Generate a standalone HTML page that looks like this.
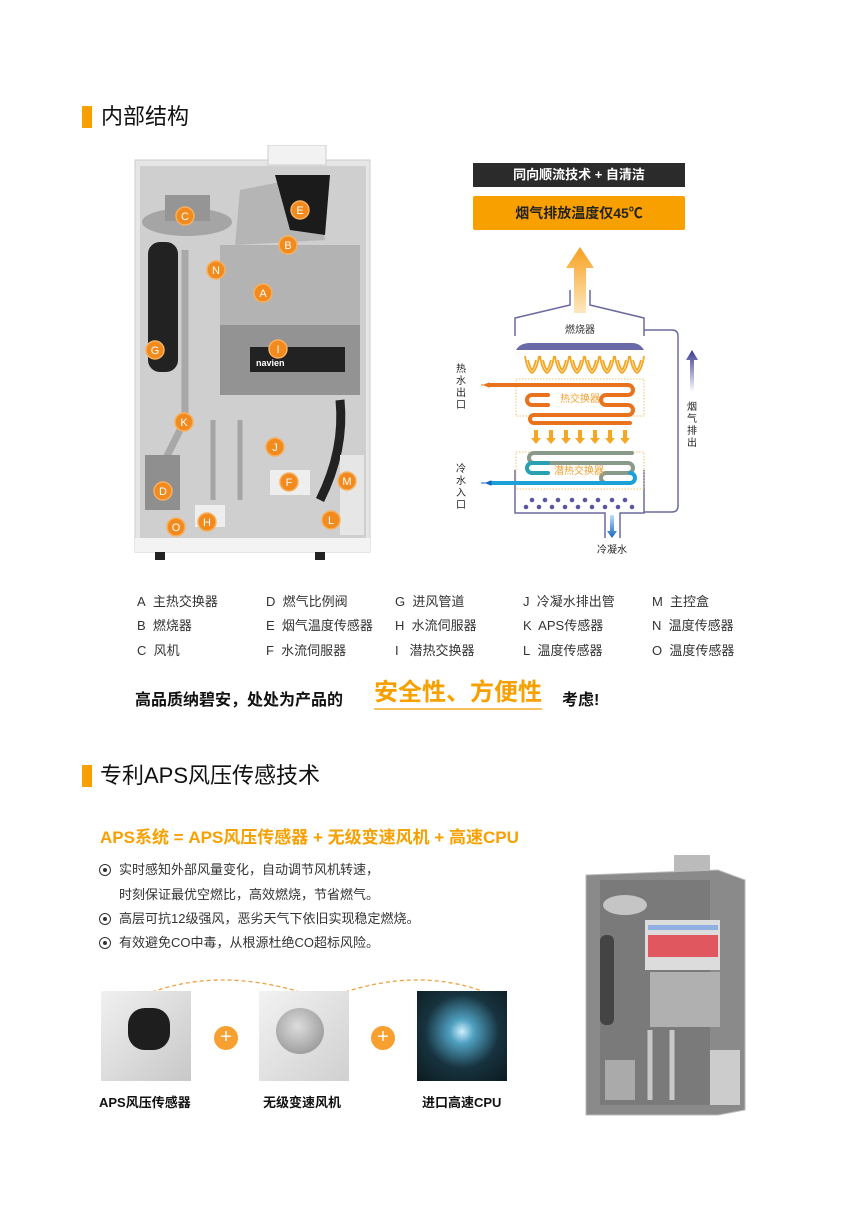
<!DOCTYPE html>
<html><head><meta charset="utf-8"><style>
*{margin:0;padding:0;box-sizing:border-box}
body{width:850px;height:1209px;background:#fff;position:relative;overflow:hidden;font-family:"Liberation Sans","Noto Sans CJK SC",sans-serif;color:#222}
.a{position:absolute;white-space:nowrap}
.bar{position:absolute;width:10px;height:22px;background:#f7a000}
.h{font-size:22px;line-height:24px;color:#111}
.lg{font-size:13px;line-height:16px;color:#333}
.bl{font-size:13px;line-height:16px;color:#333}
.dot{position:absolute;width:12px;height:12px;border:1.5px solid #333;border-radius:50%}
.dot:after{content:"";position:absolute;left:2.5px;top:2.5px;width:4px;height:4px;border-radius:50%;background:#333}
.cap{font-size:13px;font-weight:bold;color:#111}
.plus{position:absolute;width:24px;height:24px;border-radius:50%;background:#f7a030;color:#fff;font-size:20px;line-height:23px;text-align:center}
</style></head><body>

<div class="bar" style="left:82px;top:106px"></div>
<div class="a h" style="left:101px;top:105px">内部结构</div>

<!-- left photo -->
<svg class="a" style="left:130px;top:145px" width="250" height="420" viewBox="130 145 250 420">
<rect x="135" y="160" width="235" height="392" fill="#e6e6e6" stroke="#ccc"/>
<rect x="140" y="166" width="226" height="378" fill="#cfcfcf"/>
<rect x="268" y="145" width="58" height="20" fill="#f2f2f2" stroke="#ccc"/>
<ellipse cx="187" cy="222" rx="45" ry="14" fill="#a5a5a5"/>
<rect x="165" y="195" width="45" height="26" fill="#959595"/>
<rect x="148" y="242" width="30" height="130" rx="12" fill="#222"/>
<path d="M240 190 L315 175 L325 240 L235 245Z" fill="#b5b5b5"/>
<path d="M275 175 L330 175 L325 235 L290 230Z" fill="#1b1b1b"/>
<rect x="220" y="245" width="140" height="80" fill="#b3b3b3"/>
<rect x="220" y="325" width="140" height="70" fill="#939393"/>
<rect x="250" y="347" width="95" height="25" fill="#222"/>
<text x="256" y="366" font-size="9" font-weight="bold" fill="#fff" font-family="Liberation Sans">navien</text>
<path d="M185 250 L185 420 L160 470" stroke="#a8a8a8" stroke-width="7" fill="none"/>
<path d="M213 420 L213 500 M240 420 L240 500" stroke="#a5a5a5" stroke-width="5" fill="none"/>
<path d="M340 400 Q345 450 320 500" stroke="#222" stroke-width="9" fill="none"/>
<rect x="145" y="455" width="35" height="55" fill="#8f8f8f"/>
<rect x="270" y="470" width="40" height="25" fill="#eee"/>
<rect x="195" y="505" width="30" height="22" fill="#eee"/>
<rect x="340" y="455" width="24" height="80" fill="#e6e6e6"/>
<rect x="135" y="538" width="235" height="14" fill="#f3f3f3"/>
<rect x="155" y="552" width="10" height="8" fill="#222"/><rect x="315" y="552" width="10" height="8" fill="#222"/>
<g fill="#f28a1e" stroke="#f7b060" stroke-width="1.5">
<circle cx="185" cy="216" r="9"/><circle cx="300" cy="210" r="9"/><circle cx="288" cy="245" r="9"/><circle cx="216" cy="270" r="9"/><circle cx="263" cy="293" r="9"/><circle cx="278" cy="349" r="9"/><circle cx="155" cy="350" r="9"/><circle cx="184" cy="422" r="9"/><circle cx="275" cy="447" r="9"/><circle cx="289" cy="482" r="9"/><circle cx="347" cy="481" r="9"/><circle cx="163" cy="491" r="9"/><circle cx="176" cy="527" r="9"/><circle cx="207" cy="522" r="9"/><circle cx="331" cy="520" r="9"/>
</g>
<g fill="#fff" font-size="11" font-family="Liberation Sans" text-anchor="middle">
<text x="185" y="220">C</text><text x="300" y="214">E</text><text x="288" y="249">B</text><text x="216" y="274">N</text><text x="263" y="297">A</text><text x="278" y="353">I</text><text x="155" y="354">G</text><text x="184" y="426">K</text><text x="275" y="451">J</text><text x="289" y="486">F</text><text x="347" y="485">M</text><text x="163" y="495">D</text><text x="176" y="531">O</text><text x="207" y="526">H</text><text x="331" y="524">L</text>
</g>
</svg>

<!-- right diagram -->
<div class="a" style="left:473px;top:163px;width:212px;height:24px;background:#2b2b2b;color:#fff;font-size:13px;font-weight:bold;text-align:center;line-height:24px">同向顺流技术 + 自清洁</div>
<div class="a" style="left:473px;top:196px;width:212px;height:34px;background:#f7a000;color:#222;font-size:14px;font-weight:bold;text-align:center;line-height:34px;border-radius:2px">烟气排放温度仅45℃</div>
<svg class="a" style="left:440px;top:240px" width="300" height="320" viewBox="440 240 300 320" font-family="Liberation Sans,Noto Sans CJK SC,sans-serif">
<defs>
<linearGradient id="ua" x1="0" y1="0" x2="0" y2="1"><stop offset="0" stop-color="#f7a020"/><stop offset="1" stop-color="#fde7c0"/></linearGradient>
<linearGradient id="pa" x1="0" y1="0" x2="0" y2="1"><stop offset="0" stop-color="#3a3a90"/><stop offset="1" stop-color="#fff"/></linearGradient>
<linearGradient id="da" x1="0" y1="0" x2="0" y2="1"><stop offset="0" stop-color="#bfe0f5"/><stop offset="1" stop-color="#1565c0"/></linearGradient>
</defs>
<path d="M574 313 V268 H566 L580 247 L594 268 H586 V313Z" fill="url(#ua)"/>
<g stroke="#6a6aa0" stroke-width="1.5" fill="none">
<path d="M570 290 V305 L515 318 V336 M590 290 V305 L644 318 V336"/>
<path d="M515 470 V513 H605 V538 M644 470 V513 H620 V538"/>
<path d="M644 330 H672 Q678 330 678 336 V506 Q678 512 672 512 H644"/>
</g>
<text x="580" y="333" font-size="10" text-anchor="middle" fill="#333">燃烧器</text>
<path d="M516 350 Q520 343 530 343 H632 Q640 343 644 350Z" fill="#6a6aa8"/>
<g fill="none" stroke="#f5a623" stroke-width="1.8">
<path d="M525 356 Q527 370 532 373 Q537 370 539 356 M528 360 Q530 368 532 370 Q534 368 536 360"/>
<path d="M540 356 Q542 370 547 373 Q552 370 554 356 M543 360 Q545 368 547 370 Q549 368 551 360"/>
<path d="M555 356 Q557 370 562 373 Q567 370 569 356 M558 360 Q560 368 562 370 Q564 368 566 360"/>
<path d="M570 356 Q572 370 577 373 Q582 370 584 356 M573 360 Q575 368 577 370 Q579 368 581 360"/>
<path d="M585 356 Q587 370 592 373 Q597 370 599 356 M588 360 Q590 368 592 370 Q594 368 596 360"/>
<path d="M600 356 Q602 370 607 373 Q612 370 614 356 M603 360 Q605 368 607 370 Q609 368 611 360"/>
<path d="M615 356 Q617 370 622 373 Q627 370 629 356 M618 360 Q620 368 622 370 Q624 368 626 360"/>
<path d="M630 356 Q632 370 637 373 Q642 370 644 356 M633 360 Q635 368 637 370 Q639 368 641 360"/>
</g>
<rect x="516" y="379" width="128" height="37" fill="none" stroke="#f0c070" stroke-dasharray="1.5 1.5"/>
<rect x="516" y="452" width="128" height="37" fill="none" stroke="#f0c070" stroke-dasharray="1.5 1.5"/>
<g fill="none" stroke-width="4" stroke-linecap="round">
<path d="M490 385 H628 A5 5 0 0 1 628 395 H606 A5 5 0 0 0 606 405 H628 A5 5 0 0 1 628 415 H534 A4 4 0 0 0 534 423 H630" stroke="#e8731c"/>
<path d="M548 395 H532 A5 5 0 0 0 532 405 H548" stroke="#e8731c"/>
<path d="M632 453 H534 A5 5 0 0 0 534 463 H628 A5 5 0 0 1 628 473 H606 A5 5 0 0 0 606 483 H628" stroke="#8a9a8a"/>
<path d="M548 463 H532 A5 5 0 0 0 532 473 H548" stroke="#2aa0b0"/>
<path d="M490 483 H630 A5 5 0 0 0 630 473" stroke="#1ba0d8"/>
</g>
<text x="580" y="402" font-size="10" text-anchor="middle" fill="#f0a030">热交换器</text>
<text x="579" y="474" font-size="10" text-anchor="middle" fill="#f0a030">潜热交换器</text>
<g fill="#f5a623">
<path d="M534 430 h4 v8 h3 l-5 6 l-5 -6 h3z"/><path d="M549 430 h4 v8 h3 l-5 6 l-5 -6 h3z"/><path d="M564 430 h4 v8 h3 l-5 6 l-5 -6 h3z"/><path d="M578 430 h4 v8 h3 l-5 6 l-5 -6 h3z"/><path d="M593 430 h4 v8 h3 l-5 6 l-5 -6 h3z"/><path d="M608 430 h4 v8 h3 l-5 6 l-5 -6 h3z"/><path d="M623 430 h4 v8 h3 l-5 6 l-5 -6 h3z"/>
</g>
<g fill="#5a55a0">
<circle cx="532" cy="500" r="2.3"/><circle cx="545" cy="500" r="2.3"/><circle cx="558" cy="500" r="2.3"/><circle cx="572" cy="500" r="2.3"/><circle cx="585" cy="500" r="2.3"/><circle cx="598" cy="500" r="2.3"/><circle cx="612" cy="500" r="2.3"/><circle cx="625" cy="500" r="2.3"/>
<circle cx="526" cy="507" r="2.3"/><circle cx="539" cy="507" r="2.3"/><circle cx="552" cy="507" r="2.3"/><circle cx="565" cy="507" r="2.3"/><circle cx="578" cy="507" r="2.3"/><circle cx="592" cy="507" r="2.3"/><circle cx="605" cy="507" r="2.3"/><circle cx="618" cy="507" r="2.3"/><circle cx="632" cy="507" r="2.3"/>
</g>
<path d="M610 515 h4 v16 h3 l-5 7 l-5 -7 h3z" fill="url(#da)"/>
<path d="M690 392 V360 h-4 l6 -10 l6 10 h-4 V392z" fill="url(#pa)"/>
<path d="M484 385 l5 -2 v4z M481 385 h6" stroke="#e8731c" fill="#e8731c"/>
<path d="M486 483 l5 -2 v4z M481 483 h6" stroke="#1565c0" fill="#1565c0"/>
<g font-size="10" fill="#222" text-anchor="middle">
<text x="461" y="372">热</text><text x="461" y="384">水</text><text x="461" y="396">出</text><text x="461" y="408">口</text>
<text x="461" y="472">冷</text><text x="461" y="484">水</text><text x="461" y="496">入</text><text x="461" y="508">口</text>
<text x="692" y="410">烟</text><text x="692" y="422">气</text><text x="692" y="434">排</text><text x="692" y="446">出</text>
<text x="612" y="553">冷凝水</text>
</g>
</svg>

<!-- legend -->
<div class="a lg" style="left:137px;top:594px">A&nbsp; 主热交换器</div>
<div class="a lg" style="left:137px;top:618px">B&nbsp; 燃烧器</div>
<div class="a lg" style="left:137px;top:643px">C&nbsp; 风机</div>
<div class="a lg" style="left:266px;top:594px">D&nbsp; 燃气比例阀</div>
<div class="a lg" style="left:266px;top:618px">E&nbsp; 烟气温度传感器</div>
<div class="a lg" style="left:266px;top:643px">F&nbsp; 水流伺服器</div>
<div class="a lg" style="left:395px;top:594px">G&nbsp; 进风管道</div>
<div class="a lg" style="left:395px;top:618px">H&nbsp; 水流伺服器</div>
<div class="a lg" style="left:395px;top:643px">I&nbsp;&nbsp; 潜热交换器</div>
<div class="a lg" style="left:523px;top:594px">J&nbsp; 冷凝水排出管</div>
<div class="a lg" style="left:523px;top:618px">K&nbsp; APS传感器</div>
<div class="a lg" style="left:523px;top:643px">L&nbsp; 温度传感器</div>
<div class="a lg" style="left:652px;top:594px">M&nbsp; 主控盒</div>
<div class="a lg" style="left:652px;top:618px">N&nbsp; 温度传感器</div>
<div class="a lg" style="left:652px;top:643px">O&nbsp; 温度传感器</div>

<div class="a" style="left:135px;top:686px;font-size:16px;font-weight:bold;color:#111">高品质纳碧安，处处为产品的</div>
<div class="a" style="left:374px;top:678px;font-size:24px;font-weight:bold;color:#f7a000;line-height:30px;border-bottom:2px solid #f7c060">安全性、方便性</div>
<div class="a" style="left:562px;top:686px;font-size:16px;font-weight:bold;color:#111">考虑!</div>

<div class="bar" style="left:82px;top:765px"></div>
<div class="a h" style="left:100px;top:764px">专利APS风压传感技术</div>

<div class="a" style="left:100px;top:823px;font-size:17px;font-weight:bold;color:#f7a000">APS系统 = APS风压传感器 + 无级变速风机 + 高速CPU</div>

<div class="dot" style="left:99px;top:864px"></div>
<div class="a bl" style="left:119px;top:862px">实时感知外部风量变化，自动调节风机转速，</div>
<div class="a bl" style="left:119px;top:887px">时刻保证最优空燃比，高效燃烧，节省燃气。</div>
<div class="dot" style="left:99px;top:913px"></div>
<div class="a bl" style="left:119px;top:911px">高层可抗12级强风，恶劣天气下依旧实现稳定燃烧。</div>
<div class="dot" style="left:99px;top:937px"></div>
<div class="a bl" style="left:119px;top:935px">有效避免CO中毒，从根源杜绝CO超标风险。</div>

<svg class="a" style="left:100px;top:970px" width="420" height="30"><path d="M52 22 Q120 -2 200 22 M245 22 Q320 -2 385 22" stroke="#f0a040" stroke-width="1.3" stroke-dasharray="4 3" fill="none"/></svg>

<div class="a" style="left:101px;top:991px;width:90px;height:90px;background:linear-gradient(135deg,#f0f0f0,#c8c8c8)"></div>
<div class="a" style="left:128px;top:1008px;width:42px;height:42px;background:#1e1e1e;border-radius:40%"></div>
<div class="a" style="left:259px;top:991px;width:90px;height:90px;background:linear-gradient(135deg,#f2f2f2,#d0d0d0)"></div>
<div class="a" style="left:276px;top:1008px;width:48px;height:46px;background:radial-gradient(circle at 45% 40%,#ddd,#888);border-radius:50%"></div>
<div class="a" style="left:417px;top:991px;width:90px;height:90px;background:radial-gradient(circle at 50% 45%,#cfefff 0,#4fa0c0 18%,#17333f 55%,#0c1a20 100%)"></div>
<div class="plus" style="left:214px;top:1026px">+</div>
<div class="plus" style="left:371px;top:1026px">+</div>
<div class="a cap" style="left:99px;top:1092px">APS风压传感器</div>
<div class="a cap" style="left:263px;top:1092px">无级变速风机</div>
<div class="a cap" style="left:422px;top:1092px">进口高速CPU</div>

<!-- right photo -->
<svg class="a" style="left:580px;top:850px" width="175" height="270" viewBox="580 850 175 270">
<rect x="674" y="855" width="36" height="22" fill="#bbb"/>
<path d="M586 875 L718 870 L745 880 V1110 L718 1115 H586Z" fill="#8a8a8a" stroke="#bbb"/>
<rect x="600" y="880" width="110" height="225" fill="#7a7a7a"/>
<ellipse cx="625" cy="905" rx="22" ry="10" fill="#c5c5c5"/>
<rect x="645" y="920" width="75" height="50" fill="#dcdcdc"/>
<rect x="648" y="935" width="70" height="22" fill="#e2404a" opacity=".85"/>
<rect x="648" y="925" width="70" height="5" fill="#8fb0e0"/>
<rect x="650" y="972" width="70" height="55" fill="#b0b0b0"/>
<rect x="600" y="935" width="14" height="90" rx="6" fill="#444"/>
<rect x="605" y="1060" width="30" height="40" fill="#aaa"/>
<rect x="710" y="1050" width="30" height="55" fill="#ccc"/>
<path d="M650 1030 V1100 M672 1030 V1100" stroke="#c8c8c8" stroke-width="5"/>
</svg>
</body></html>
